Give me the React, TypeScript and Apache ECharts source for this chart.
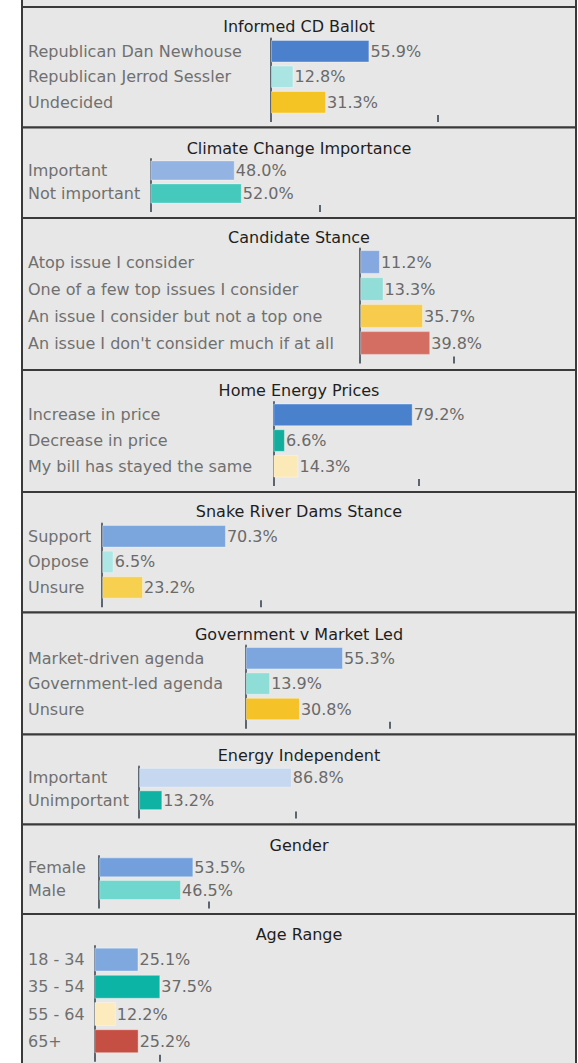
import { useEffect, useRef } from 'react';
import * as echarts from 'echarts';

const titles = [
  'Informed CD Ballot',
  'Climate Change Importance',
  'Candidate Stance',
  'Home Energy Prices',
  'Snake River Dams Stance',
  'Government v Market Led',
  'Energy Independent',
  'Gender',
  'Age Range',
];

const ballotCats = ['Republican Dan Newhouse', 'Republican Jerrod Sessler', 'Undecided'];
const ballotVals = [55.9, 12.8, 31.3];

const climateCats = ['Important', 'Not important'];
const climateVals = [48.0, 52.0];

const stanceCats = [
  'Atop issue I consider',
  'One of a few top issues I consider',
  'An issue I consider but not a top one',
  "An issue I don't consider much if at all",
];
const stanceVals = [11.2, 13.3, 35.7, 39.8];

const energyCats = ['Increase in price', 'Decrease in price', 'My bill has stayed the same'];
const energyVals = [79.2, 6.6, 14.3];

const damsCats = ['Support', 'Oppose', 'Unsure'];
const damsVals = [70.3, 6.5, 23.2];

const govCats = ['Market-driven agenda', 'Government-led agenda', 'Unsure'];
const govVals = [55.3, 13.9, 30.8];

const indepCats = ['Important', 'Unimportant'];
const indepVals = [86.8, 13.2];

const genderCats = ['Female', 'Male'];
const genderVals = [53.5, 46.5];

const ageCats = ['18 - 34', '35 - 54', '55 - 64', '65+'];
const ageVals = [25.1, 37.5, 12.2, 25.2];

// tick mark value on each panel's value axis
const tickValues = [94.7, 96.2, 53.4, 82.7, 90, 82, 88.8, 62.5, 37.3];

const categoryLists = [ballotCats, climateCats, stanceCats, energyCats, damsCats, govCats, indepCats, genderCats, ageCats];
const valueLists = [ballotVals, climateVals, stanceVals, energyVals, damsVals, govVals, indepVals, genderVals, ageVals];

// styles
const colors = [
  ['#4a80cc', '#abe5e3', '#f4c324'],
  ['#93b4e2', '#46c9bd'],
  ['#86a8e0', '#93ddd8', '#f7cc4c', '#d46e63'],
  ['#4a81cd', '#12ad9d', '#fce9b8'],
  ['#7ba6dd', '#ace6e5', '#f7d04f'],
  ['#7ca6dd', '#8fddd7', '#f5c327'],
  ['#c6d8f0', '#10b2a3'],
  ['#73a0dc', '#6fd7cd'],
  ['#7fa8df', '#0cb4a6', '#fdebbd', '#c64f43'],
];

// layout
const axisXs = [271, 150.3, 360.2, 273.3, 102.2, 245.7, 139.1, 99.2, 94.3];
const gridTops = [38.5, 159, 248.5, 402, 523.5, 645.5, 766.5, 856, 946];
const rowPitches = [25.5, 23, 27, 25.7, 25.6, 25.4, 22.5, 22.7, 27.2];
const titleYs = [26.7, 148.3, 237.7, 390.7, 511.7, 634, 755, 845, 934];
const panelEdges = [7, 127.5, 218, 370, 492, 612.5, 734.5, 824.5, 914, 1090];

const FONT = 'DejaVu Sans';
const PX_PER_UNIT = 1.76;
const AXIS_MAX = 100;
const LABEL_X = 28;

export default function App() {
  const ref = useRef<HTMLDivElement>(null);

  useEffect(() => {
    if (!ref.current) return;
    const chart = echarts.init(ref.current, undefined, { renderer: 'svg' });

    const grid = valueLists.map((vals, i) => ({
      left: axisXs[i],
      top: gridTops[i],
      width: AXIS_MAX * PX_PER_UNIT,
      height: rowPitches[i] * vals.length,
    }));

    const xAxis = valueLists.map((_, i) => ({
      gridIndex: i,
      type: 'value',
      min: 0,
      max: AXIS_MAX,
      axisLine: { show: false },
      splitLine: { show: false },
      axisLabel: { show: false },
      axisTick: {
        show: true,
        customValues: [0, tickValues[i]],
        length: 7,
        lineStyle: { color: '#5b6570', width: 2 },
      },
    }));

    const yAxis = categoryLists.map((cats, i) => ({
      gridIndex: i,
      type: 'category',
      data: cats,
      inverse: true,
      axisLine: { show: true, lineStyle: { color: '#5e6974', width: 2 } },
      axisTick: { show: false },
      splitLine: { show: false },
      axisLabel: {
        interval: 0,
        align: 'left',
        margin: axisXs[i] - LABEL_X,
        color: '#707070',
        fontFamily: FONT,
        fontSize: 16,
      },
    }));

    const series = valueLists.map((vals, i) => ({
      type: 'bar',
      xAxisIndex: i,
      yAxisIndex: i,
      barCategoryGap: '12%',
      data: vals.map((v, j) => ({
        value: v,
        itemStyle: { color: colors[i][j], borderColor: 'rgba(255,255,255,0.35)', borderWidth: 1 },
      })),
      label: {
        show: true,
        position: 'right',
        distance: 1,
        formatter: (p: any) => `${Number(p.value).toFixed(1)}%`,
        color: '#6a6a6a',
        fontFamily: FONT,
        fontSize: 16,
      },
    }));

    const graphic: any[] = [];
    // top stub of the panel above
    graphic.push({
      type: 'rect',
      z: -10,
      shape: { x: 22, y: -20, width: 554, height: 27 },
      style: { fill: '#e7e7e7', stroke: '#3a3a3a', lineWidth: 2 },
    });
    for (let i = 0; i < titles.length; i++) {
      graphic.push({
        type: 'rect',
        z: -10,
        shape: { x: 22, y: panelEdges[i], width: 554, height: panelEdges[i + 1] - panelEdges[i] },
        style: { fill: '#e7e7e7', stroke: '#3a3a3a', lineWidth: 2 },
      });
      graphic.push({
        type: 'text',
        z: 10,
        x: 299,
        y: titleYs[i],
        style: {
          text: titles[i],
          align: 'center',
          verticalAlign: 'middle',
          fill: '#1e1e1e',
          fontFamily: FONT,
          fontSize: 16,
        },
      });
    }

    chart.setOption({
      animation: false,
      backgroundColor: '#ffffff',
      grid,
      xAxis,
      yAxis,
      series,
      graphic,
    } as any);

    return () => chart.dispose();
  }, []);

  return (
    <div
      ref={ref}
      style={{ position: 'fixed', left: 0, top: 0, width: 578, height: 1063, background: '#fff' }}
    />
  );
}
